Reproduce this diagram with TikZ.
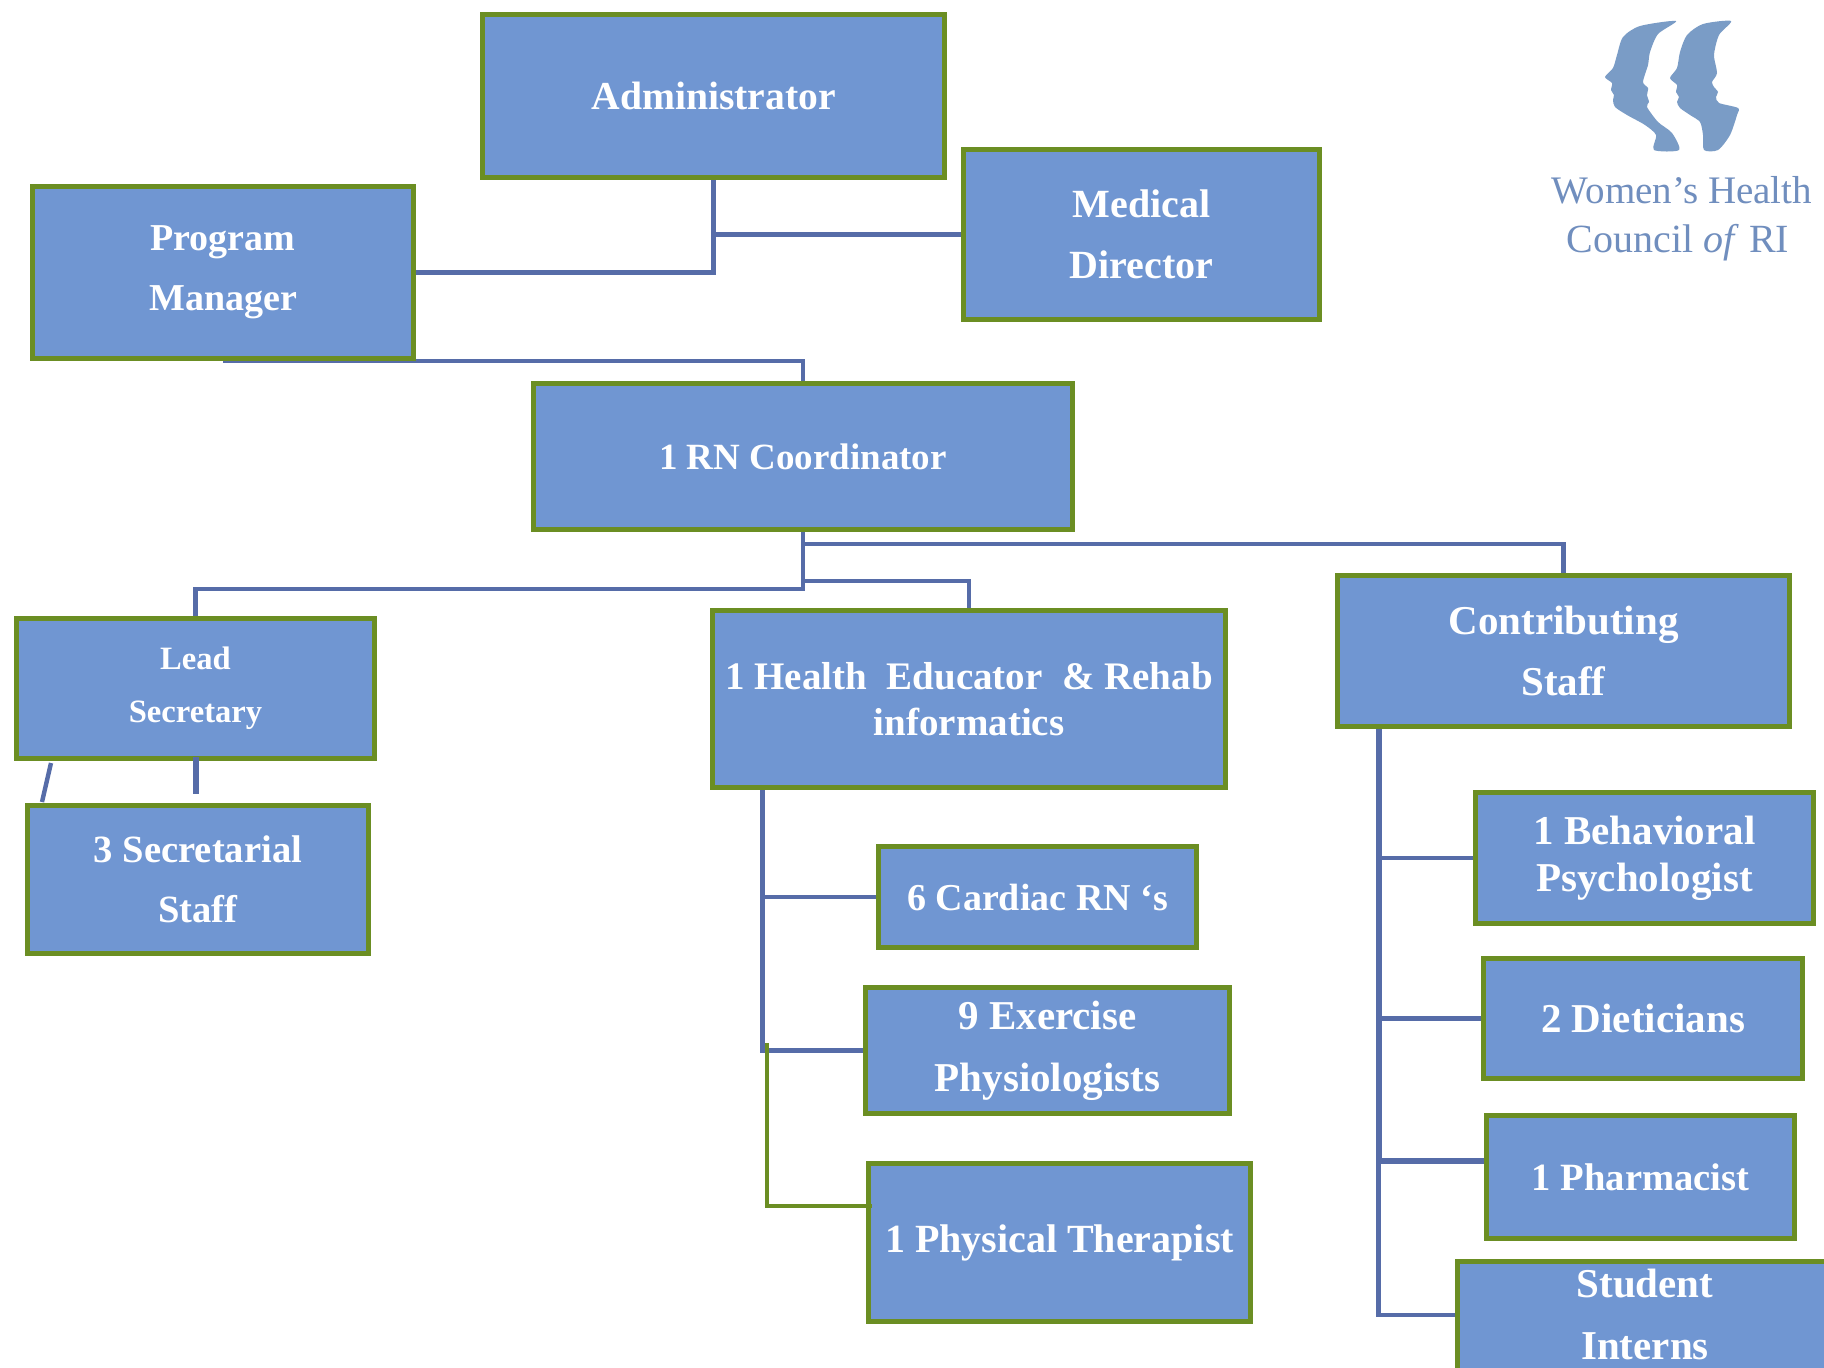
\documentclass[tikz,border=0pt]{standalone}
\usepackage{fontspec}
\setmainfont{Liberation Serif}
\usetikzlibrary{calc,backgrounds}
\definecolor{bfill}{RGB}{112,150,210}
\definecolor{bgreen}{RGB}{107,142,35}
\definecolor{connc}{RGB}{86,108,168}
\definecolor{logoc}{RGB}{122,156,198}
\definecolor{logot}{RGB}{112,142,190}
\begin{document}
\begin{tikzpicture}[x=0.5pt,y=-0.5pt,
  box/.style={draw=bgreen, fill=bfill, line width=2.5pt, inner sep=0pt, text=white, align=center},
  conn/.style={draw=connc, line width=2.2pt},
  gconn/.style={draw=bgreen, line width=2.2pt},
  logofill/.style={fill=logoc},
  logotext/.style={text=logot, inner sep=0pt}
]
\useasboundingbox (0,0) rectangle (1824,1367);

% ---------- boxes ----------
\node[box, minimum width=231pt, minimum height=81.5pt, font=\fontsize{19.8pt}{24pt}\selectfont\bfseries] (adm) at (713.5,96) {Administrator};
\node[box, minimum width=178pt, minimum height=85pt, font=\fontsize{20pt}{30.5pt}\selectfont\bfseries] (md) at (1141.5,234.5) {Medical\\Director};
\node[box, minimum width=190.5pt, minimum height=86pt, font=\fontsize{19pt}{30pt}\selectfont\bfseries] (pm) at (223,272.5) {Program\\Manager};
\node[box, minimum width=269.5pt, minimum height=73pt, font=\fontsize{18.5pt}{24pt}\selectfont\bfseries] (rn) at (803,456.5) {1 RN Coordinator};
\node[box, minimum width=179pt, minimum height=70pt, font=\fontsize{16.3pt}{26.5pt}\selectfont\bfseries] (lead) at (195.5,688.5) {Lead\\Secretary};
\node[box, minimum width=170.5pt, minimum height=74pt, font=\fontsize{19.3pt}{30pt}\selectfont\bfseries] (sec) at (198,879.5) {3 Secretarial\\Staff};
\node[box, minimum width=256.5pt, minimum height=88.5pt, font=\fontsize{19.5pt}{23pt}\selectfont\bfseries] (he) at (969,699) {1 Health\ \ Educator\ \ \& Rehab\\informatics};
\node[box, minimum width=226pt, minimum height=75.5pt, font=\fontsize{20.5pt}{30.5pt}\selectfont\bfseries] (cs) at (1563.5,651) {Contributing\\Staff};
\node[box, minimum width=159pt, minimum height=50.5pt, font=\fontsize{19pt}{24pt}\selectfont\bfseries] (rnc) at (1037.5,897) {6 Cardiac RN ‘s};
\node[box, minimum width=182pt, minimum height=63pt, font=\fontsize{20.5pt}{31pt}\selectfont\bfseries] (ex) at (1047.5,1050.5) {9 Exercise\\Physiologists};
\node[box, minimum width=191pt, minimum height=79pt, font=\fontsize{20pt}{24pt}\selectfont\bfseries] (pt) at (1059.5,1242.5) {1 Physical Therapist};
\node[box, minimum width=169pt, minimum height=65.5pt, font=\fontsize{20.5pt}{23.5pt}\selectfont\bfseries] (beh) at (1644.5,858) {1 Behavioral\\Psychologist};
\node[box, minimum width=159.5pt, minimum height=60pt, font=\fontsize{20.5pt}{24pt}\selectfont\bfseries] (diet) at (1643,1018.5) {2 Dieticians};
\node[box, minimum width=154pt, minimum height=61.5pt, font=\fontsize{19.3pt}{24pt}\selectfont\bfseries] (ph) at (1640.5,1177) {1 Pharmacist};
\node[box, minimum width=190pt, minimum height=68pt] (stu) at (1647.5,1329.5) {};
\node[text=white, align=center, inner sep=0pt, font=\fontsize{20.5pt}{31pt}\selectfont\bfseries] (stut) at (1645,1314) {Student\\Interns};

% ---------- connectors ----------
\coordinate (jc) at (803,544);
\coordinate (jh) at (803,581);
\coordinate (jl) at (803,589);
\coordinate (hstart) at ($(he.south west)+(52.5,0)$);
\coordinate (cst) at ($(cs.south west)+(43.5,0)$);
\begin{pgfonlayer}{background}
\fill[white] (0,0) rectangle (1824,1367);
\draw[conn] (adm.south) |- (pm.east);
\draw[conn] (adm.south) |- (md.west);
\draw[conn] (pm.south) -| (rn.north);
\draw[conn] (rn.south) -- (jl) -| (lead.north);
\draw[conn] (jh) -| (he.north);
\draw[conn] (jc) -| (cs.north);
\draw[conn] (hstart) |- (rnc.west);
\draw[conn] (hstart) |- (ex.west);
\draw[conn] (cst) |- (beh.west);
\draw[conn] (cst) |- (diet.west);
\draw[conn, line width=3pt] (cst) |- ($(ph.west)+(0,-16)$);
\draw[conn] (cst) |- ($(stu.west)+(0,-14.5)$);
\end{pgfonlayer}

% lines drawn over the boxes
\coordinate (d1) at (51,763);
\coordinate (d2) at (42,802);
\draw[conn, line width=3pt, shorten <=-2.25pt, shorten >=4.75pt] (lead.south) -- (lead.south |- sec.north);
\draw[conn] (d1) -- (d2);
\coordinate (g1) at (767,1043);
\draw[gconn] (g1) |- ($(pt.west)+(5.5,-36.5)$);

% ---------- logo ----------
\fill[logofill] plot[smooth cycle, tension=0.45] coordinates {
 (1676,21) (1640,26) (1623,37) (1617,55) (1613,68) (1605,77) (1612,83) (1611,90)
 (1614,95) (1613,100) (1615,107) (1627,115) (1645,125) (1656,135) (1654,150)
 (1679,150) (1672,133) (1658,122) (1647,107) (1649,102) (1647,95) (1648,88)
 (1643,82) (1648,65) (1650,52) (1658,34)};
\fill[logofill] plot[smooth cycle, tension=0.45] coordinates {
 (1731,21) (1703,24) (1687,35) (1680,52) (1677,68) (1670,78) (1677,85) (1676,92)
 (1679,97) (1677,102) (1680,108) (1690,115) (1700,122) (1703,135) (1704,150)
 (1718,150) (1730,135) (1737,115) (1738,108) (1719,103) (1716,97) (1718,92)
 (1714,87) (1712,82) (1717,73) (1714,55) (1719,35)};
\node[logotext, anchor=base, font=\fontsize{19.5pt}{24pt}\selectfont] (wh) at (1682,203) {Women’s Health};
\node[logotext, anchor=base, font=\fontsize{20pt}{24pt}\selectfont] (cri) at (1678,252) {Council \textit{of} RI};
\end{tikzpicture}
\end{document}
